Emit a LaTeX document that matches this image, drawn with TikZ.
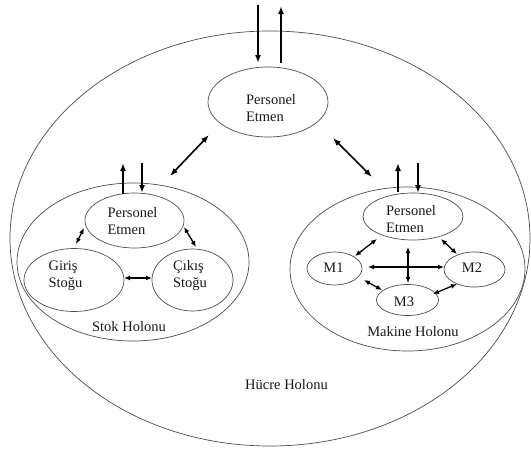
\documentclass[tikz,border=0pt]{standalone}
\usepackage{fontspec}
\setmainfont{Liberation Serif}
\usetikzlibrary{shapes.geometric,arrows.meta}

\tikzset{
  holon/.style={draw=black!70, line width=0.7pt, ellipse, inner sep=0pt},
  lbl/.style={font=\fontsize{14.5}{17}\selectfont, align=left, inner sep=0pt, text=black!90},
  bigarrow/.style={line width=1.6pt, -{Latex[length=8pt,width=6pt]}},
  bigdbl/.style={line width=1.6pt, {Latex[length=8pt,width=6pt]}-{Latex[length=8pt,width=6pt]}},
  smalldbl/.style={line width=1.3pt, {Latex[length=6pt,width=5pt]}-{Latex[length=6pt,width=5pt]}}
}

\begin{document}
\begin{tikzpicture}[x=1pt, y=-1pt]
\useasboundingbox (0,0) rectangle (531,450);

% cell holon and its staff agent
\node[holon, minimum width=520pt, minimum height=415pt] (hucre) at (270,238.5) {};
\node[holon, minimum width=120pt, minimum height=70pt] (tp) at (268,102) {};
\node[lbl] (tpt) at (271,108.5) {Personel\\Etmen};
\node[lbl] (hucret) at (286.5,385) {Hücre Holonu};

% stock holon
\node[holon, minimum width=232pt, minimum height=158pt] (stok) at (133,262) {};
\node[holon, minimum width=99pt, minimum height=55pt] (sp) at (134.5,220.5) {};
\node[lbl] (spt) at (132.5,221.5) {Personel\\Etmen};
\node[holon, minimum width=100pt, minimum height=63pt] (giris) at (74,280) {};
\node[lbl] (girist) at (65.5,276) {Giriş\\Stoğu};
\node[holon, minimum width=81pt, minimum height=62pt] (cikis) at (192.5,280) {};
\node[lbl] (cikist) at (190,276) {Çıkış\\Stoğu};
\node[lbl] (stokt) at (129,327) {Stok Holonu};

% machine holon
\node[holon, minimum width=235pt, minimum height=164pt] (makine) at (407.5,269) {};
\node[holon, minimum width=100pt, minimum height=47pt] (mp) at (413,216.5) {};
\node[lbl] (mpt) at (411,219) {Personel\\Etmen};
\node[holon, minimum width=55pt, minimum height=33pt] (m1) at (334.5,268.5) {};
\node[lbl] (m1t) at (333.5,268) {M1};
\node[holon, minimum width=61pt, minimum height=35pt] (m2) at (474.5,269.5) {};
\node[lbl] (m2t) at (472,268) {M2};
\node[holon, minimum width=62pt, minimum height=31pt] (m3) at (407.5,300) {};
\node[lbl] (m3t) at (404,302) {M3};
\node[lbl] (makinet) at (413,332) {Makine Holonu};

% arrow end points
\coordinate (tpInA) at (258,5);   \coordinate (tpInB) at (258,63);
\coordinate (tpOutA) at (281,63); \coordinate (tpOutB) at (281,6);
\coordinate (tp-sw) at (209,135); \coordinate (stok-ne) at (170,176);
\coordinate (tp-se) at (333,138); \coordinate (makine-nw) at (372,177);
\coordinate (spOutA) at (123,194); \coordinate (spOutB) at (123,163);
\coordinate (spInA) at (142,163);  \coordinate (spInB) at (142,193);
\coordinate (mpOutA) at (398,192); \coordinate (mpOutB) at (398,163);
\coordinate (mpInA) at (418,163);  \coordinate (mpInB) at (418,193);
\coordinate (sp-sw) at (84,228);   \coordinate (giris-n) at (76,244);
\coordinate (sp-se) at (184,227);  \coordinate (cikis-n) at (196,247);
\coordinate (giris-e) at (124,278); \coordinate (cikis-w) at (152,278);
\coordinate (mp-sw) at (377,239);  \coordinate (m1-ne) at (355,256);
\coordinate (mp-se) at (441,239);  \coordinate (m2-nw) at (457,254);
\coordinate (mp-s) at (408,247);   \coordinate (m3-n) at (408,283);
\coordinate (m1-e) at (368,267);   \coordinate (m2-w) at (444,267);
\coordinate (m1-se) at (364,280);  \coordinate (m3-nw) at (382,290);
\coordinate (m2-sw) at (457,284);  \coordinate (m3-ne) at (433,294);

% connectors
\draw[bigarrow] (tpInA) -- (tpInB);
\draw[bigarrow] (tpOutA) -- (tpOutB);
\draw[bigdbl] (tp-sw) -- (stok-ne);
\draw[bigdbl] (tp-se) -- (makine-nw);
\draw[bigarrow] (spOutA) -- (spOutB);
\draw[bigarrow] (spInA) -- (spInB);
\draw[bigarrow] (mpOutA) -- (mpOutB);
\draw[bigarrow] (mpInA) -- (mpInB);

\draw[smalldbl] (sp-sw) -- (giris-n);
\draw[smalldbl] (sp-se) -- (cikis-n);
\draw[smalldbl] (giris-e) -- (cikis-w);

\draw[smalldbl] (mp-sw) -- (m1-ne);
\draw[smalldbl] (mp-se) -- (m2-nw);
\draw[smalldbl] (mp-s) -- (m3-n);
\draw[smalldbl] (m1-e) -- (m2-w);
\draw[smalldbl] (m1-se) -- (m3-nw);
\draw[smalldbl] (m2-sw) -- (m3-ne);
\end{tikzpicture}
\end{document}
